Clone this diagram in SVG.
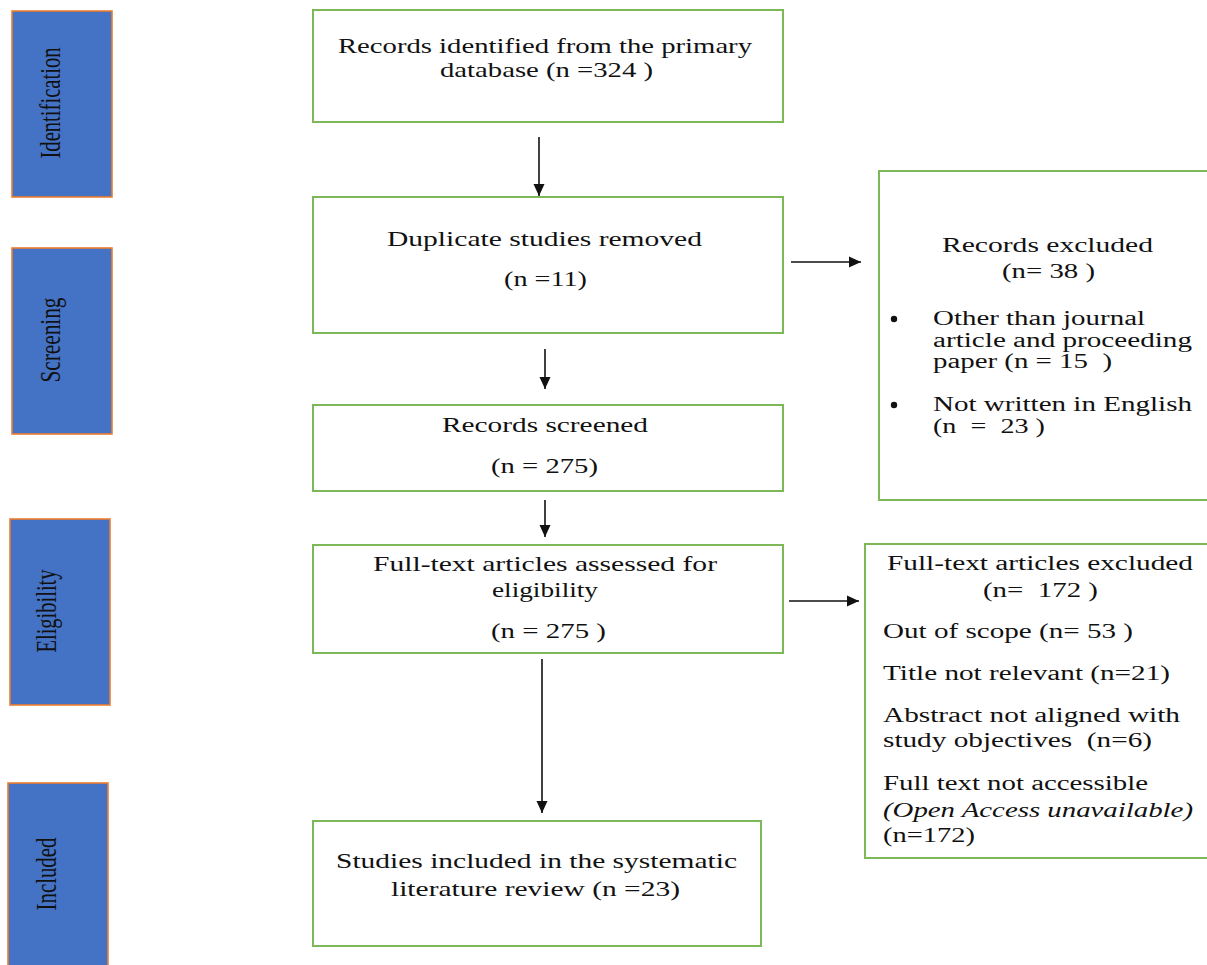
<svg xmlns="http://www.w3.org/2000/svg" width="1207" height="965" viewBox="0 0 1207 965">
<style>
.bg{fill:#ffffff}
.phase{fill:#4472C4;stroke:#ED7D31;stroke-width:1.6}
.box{fill:#ffffff;stroke:#7DB758;stroke-width:2}
.pl{font-family:"Liberation Serif","Times New Roman",serif;font-size:30px;fill:#111111}
.t{font-family:"Liberation Serif","Times New Roman",serif;font-size:22px;fill:#111111;white-space:pre}
.r{font-family:"Liberation Serif","Times New Roman",serif;font-size:20px;fill:#111111;white-space:pre}
.c{text-anchor:middle}
.i{font-style:italic}
.conn{stroke:#111111;stroke-width:1.6;fill:none}
</style>
<defs>
<marker id="ah" markerUnits="userSpaceOnUse" markerWidth="13" markerHeight="12" refX="12" refY="6" orient="auto">
<path d="M0,0.5 L12,6 L0,11.5 z" fill="#111111"/>
</marker>
</defs>
<rect class="bg" x="0" y="0" width="1207" height="965"/>

<g id="phase-identification">
<rect class="phase" x="12" y="11" width="100" height="186"/>
<text class="pl c" transform="translate(60,103) rotate(-90)" textLength="111" lengthAdjust="spacingAndGlyphs">Identification</text>
</g>
<g id="phase-screening">
<rect class="phase" x="12" y="248" width="100" height="186"/>
<text class="pl c" transform="translate(60,340) rotate(-90)" textLength="85" lengthAdjust="spacingAndGlyphs">Screening</text>
</g>
<g id="phase-eligibility">
<rect class="phase" x="10" y="519" width="100" height="186"/>
<text class="pl c" transform="translate(56,611) rotate(-90)" textLength="83" lengthAdjust="spacingAndGlyphs">Eligibility</text>
</g>
<g id="phase-included">
<rect class="phase" x="8" y="783" width="100" height="200"/>
<text class="pl c" transform="translate(56,874) rotate(-90)" textLength="73" lengthAdjust="spacingAndGlyphs">Included</text>
</g>

<g id="identified">
<rect class="box" x="313" y="10" width="470" height="112"/>
<text class="t c" xml:space="preserve" x="545" y="53" textLength="414" lengthAdjust="spacingAndGlyphs">Records identified from the primary</text>
<text class="t c" xml:space="preserve" x="546.5" y="77" textLength="213" lengthAdjust="spacingAndGlyphs">database (n =324 )</text>
</g>
<g id="duplicates">
<rect class="box" x="313" y="197" width="470" height="136"/>
<text class="t c" xml:space="preserve" x="544.5" y="246" textLength="315" lengthAdjust="spacingAndGlyphs">Duplicate studies removed</text>
<text class="t c" xml:space="preserve" x="545.5" y="286" textLength="83" lengthAdjust="spacingAndGlyphs">(n =11)</text>
</g>
<g id="screened">
<rect class="box" x="313" y="405" width="470" height="86"/>
<text class="t c" xml:space="preserve" x="545" y="432" textLength="206" lengthAdjust="spacingAndGlyphs">Records screened</text>
<text class="t c" xml:space="preserve" x="544.5" y="473" textLength="107" lengthAdjust="spacingAndGlyphs">(n = 275)</text>
</g>
<g id="fulltext">
<rect class="box" x="313" y="545" width="470" height="108"/>
<text class="t c" xml:space="preserve" x="545" y="571" textLength="344" lengthAdjust="spacingAndGlyphs">Full-text articles assessed for</text>
<text class="t c" xml:space="preserve" x="545" y="597" textLength="106" lengthAdjust="spacingAndGlyphs">eligibility</text>
<text class="t c" xml:space="preserve" x="548.5" y="638" textLength="115" lengthAdjust="spacingAndGlyphs">(n = 275 )</text>
</g>
<g id="included">
<rect class="box" x="313" y="821" width="448" height="125"/>
<text class="t c" xml:space="preserve" x="536.5" y="868" textLength="401" lengthAdjust="spacingAndGlyphs">Studies included in the systematic</text>
<text class="t c" xml:space="preserve" x="535.5" y="896" textLength="289" lengthAdjust="spacingAndGlyphs">literature review (n =23)</text>
</g>

<g id="records-excluded">
<rect class="box" x="879" y="171" width="340" height="329"/>
<text class="r c" xml:space="preserve" x="1047.5" y="252" textLength="211" lengthAdjust="spacingAndGlyphs">Records excluded</text>
<text class="r c" xml:space="preserve" x="1048.5" y="278" textLength="93" lengthAdjust="spacingAndGlyphs">(n= 38 )</text>
<circle cx="894" cy="319" r="3.2" fill="#111111"/>
<text class="r" xml:space="preserve" x="933" y="325" textLength="212" lengthAdjust="spacingAndGlyphs">Other than journal</text>
<text class="r" xml:space="preserve" x="933" y="347" textLength="259" lengthAdjust="spacingAndGlyphs">article and proceeding</text>
<text class="r" xml:space="preserve" x="933" y="368" textLength="179" lengthAdjust="spacingAndGlyphs">paper (n = 15  )</text>
<circle cx="894" cy="405" r="3.2" fill="#111111"/>
<text class="r" xml:space="preserve" x="933" y="411" textLength="259" lengthAdjust="spacingAndGlyphs">Not written in English</text>
<text class="r" xml:space="preserve" x="933" y="433" textLength="112" lengthAdjust="spacingAndGlyphs">(n  =  23 )</text>
</g>
<g id="fulltext-excluded">
<rect class="box" x="865" y="544" width="360" height="314"/>
<text class="r c" xml:space="preserve" x="1040" y="570" textLength="306" lengthAdjust="spacingAndGlyphs">Full-text articles excluded</text>
<text class="r c" xml:space="preserve" x="1040.5" y="597" textLength="115" lengthAdjust="spacingAndGlyphs">(n=  172 )</text>
<text class="r" xml:space="preserve" x="883" y="638" textLength="250" lengthAdjust="spacingAndGlyphs">Out of scope (n= 53 )</text>
<text class="r" xml:space="preserve" x="883" y="680" textLength="287" lengthAdjust="spacingAndGlyphs">Title not relevant (n=21)</text>
<text class="r" xml:space="preserve" x="883" y="722" textLength="297" lengthAdjust="spacingAndGlyphs">Abstract not aligned with</text>
<text class="r" xml:space="preserve" x="883" y="747" textLength="269" lengthAdjust="spacingAndGlyphs">study objectives  (n=6)</text>
<text class="r" xml:space="preserve" x="883" y="790" textLength="265" lengthAdjust="spacingAndGlyphs">Full text not accessible</text>
<text class="r i" xml:space="preserve" x="883" y="817" textLength="310" lengthAdjust="spacingAndGlyphs">(Open Access unavailable)</text>
<text class="r" xml:space="preserve" x="883" y="842" textLength="92" lengthAdjust="spacingAndGlyphs">(n=172)</text>
</g>

<g id="connectors">
<line class="conn" x1="539" y1="137" x2="539" y2="196" marker-end="url(#ah)"/>
<line class="conn" x1="545" y1="349" x2="545" y2="389" marker-end="url(#ah)"/>
<line class="conn" x1="545" y1="500" x2="545" y2="537" marker-end="url(#ah)"/>
<line class="conn" x1="542" y1="659" x2="542" y2="813" marker-end="url(#ah)"/>
<line class="conn" x1="791" y1="262" x2="861" y2="262" marker-end="url(#ah)"/>
<line class="conn" x1="789" y1="601" x2="859" y2="601" marker-end="url(#ah)"/>
</g>
</svg>
